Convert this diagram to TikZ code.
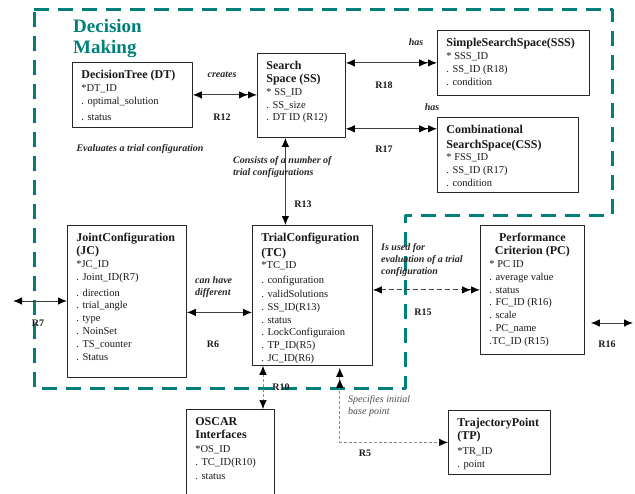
\documentclass[tikz,border=0pt]{standalone}
\usepackage{fontspec}
\setmainfont{Liberation Serif}
\usetikzlibrary{arrows.meta,positioning,calc}
\definecolor{dmteal}{RGB}{0,128,122}
\newcommand{\enttext}[3]{\parbox[t][#2][t]{#1}{\raggedright\fontsize{10.5}{12.8}\selectfont #3}}
\newcommand{\enthead}[1]{{\fontsize{12}{14}\selectfont\bfseries #1}}
\newcommand{\entmid}[1]{\makebox[\linewidth]{\enthead{#1}}}
\tikzset{
	entity/.style={draw=black!85,line width=0.8pt,anchor=north west,inner xsep=9pt,inner ysep=8pt,fill=white,text=black!90},
	rel/.style={line width=1pt,draw=black!75},
	dashrel/.style={line width=1pt,draw=black!75,dash pattern=on 5pt off 3pt},
	greyrel/.style={line width=0.7pt,draw=black!45,dash pattern=on 3pt off 2pt},
	verb/.style={inner sep=0pt,align=left,font=\fontsize{10}{12}\selectfont\bfseries\itshape,text=black!85},
	rname/.style={inner sep=0pt,font=\fontsize{10}{12}\selectfont\bfseries,text=black!90}
}

\begin{document}
\begin{tikzpicture}[line join=round,x=1pt,y=-1pt,>={Latex[length=9pt,width=7.5pt,black]}]
		\useasboundingbox (0,0) rectangle (635,493);
		\clip (0,0) rectangle (635,493);
		% decision making area
		\draw[dmteal,line width=3pt,dash pattern=on 15pt off 9pt] (34,9) -- (612,9) -- (612,215) -- (405,215) -- (405,388) -- (34,388) -- cycle;
		\node[anchor=north west,inner sep=0pt,align=left,text=dmteal,font=\fontsize{19}{21}\selectfont\bfseries] (dmtitle) at (73,19) {Decision\\Making};
		% entities
		\node[entity] (dt) at (72,62) {\enttext{102pt}{49pt}{\enthead{DecisionTree (DT)}\\ {}*DT\_ID\\ . optimal\_solution\\[3pt] . status}};
		\node[entity] (ss) at (257,53) {\enttext{70pt}{68pt}{\enthead{Search}\\ \enthead{Space (SS)}\\ {}* SS\_ID\\ . SS\_size\\ . DT ID (R12)}};
		\node[entity] (sss) at (437,30) {\enttext{134pt}{49pt}{\enthead{SimpleSearchSpace(SSS)}\\ {}* SSS\_ID\\ . SS\_ID (R18)\\ . condition}};
		\node[entity] (css) at (437,117) {\enttext{123pt}{59pt}{\enthead{Combinational}\\[1.5pt] \enthead{SearchSpace(CSS)}\\ {}* FSS\_ID\\ . SS\_ID (R17)\\ . condition}};
		\node[entity] (jc) at (67,225) {\enttext{101pt}{136pt}{\enthead{JointConfiguration}\\ \enthead{(JC)}\\ {}*JC\_ID\\ . Joint\_ID(R7)\\[3pt] . direction\\ . trial\_angle\\ . type\\ . NoinSet\\ . TS\_counter\\ . Status}};
		\node[entity] (tc) at (252,225) {\enttext{102pt}{124pt}{\enthead{TrialConfiguration}\\[1.5pt] \enthead{(TC)}\\ {}*TC\_ID\\[1.5pt] . configuration\\[1.5pt] . validSolutions\\ . SS\_ID(R13)\\ . status\\ . LockConfiguraion\\ . TP\_ID(R5)\\ . JC\_ID(R6)}};
		\node[entity] (pc) at (480,225) {\enttext{86pt}{113pt}{\entmid{Performance}\\ \entmid{Criterion (PC)}\\ {}* PC ID\\ . average value\\ . status\\ . FC\_ID (R16)\\ . scale\\ . PC\_name\\ .TC\_ID (R15)}};
		\node[entity] (osc) at (186,409) {\enttext{70pt}{84pt}{\enthead{OSCAR}\\ \enthead{Interfaces}\\[2pt] {}*OS\_ID\\ . TC\_ID(R10)\\[1pt] . status}};
		\node[entity] (tp) at (448,410) {\enttext{84pt}{48pt}{\enthead{TrajectoryPoint}\\ \enthead{(TP)}\\[2pt] {}*TR\_ID\\ . point}};
		% relations
		\coordinate (r7end) at (13,301);
		\coordinate (r16end) at (633,323);
		\draw[rel,<->>] (dt.east) -- (dt.east -| ss.west);
		\draw[rel,<->>] (sss.west -| ss.east) -- (sss.west);
		\draw[rel,<->>] ([yshift=9pt]ss.south east) -- ([yshift=9pt]ss.south east -| css.west);
		\draw[rel,<->] ([xshift=-16pt]ss.south) -- ([xshift=-16pt]ss.south |- tc.north);
		\draw[rel,<->] (r7end) -- (r7end -| jc.west);
		\draw[rel,<->] ([yshift=-17pt]tc.west -| jc.east) -- ([yshift=-17pt]tc.west);
		\draw[dashrel,<->>] (pc.west -| tc.east) -- (pc.west);
		\draw[rel,<->] ([xshift=6pt]pc.east |- r16end) -- (r16end);
		\draw[greyrel,<->] ([xshift=11pt]tc.south west) -- ([xshift=11pt]tc.south west |- osc.north);
		\draw[greyrel,{Latex[length=9pt,width=7.5pt,sep=2pt,black]Latex[length=9pt,width=7.5pt,sep=2pt,black]}->] ([xshift=-33pt]tc.south east) |- (tp.west);
		% labels
		\node[verb] (lcreates) at (222,75) {creates};
		\node[rname] (lr12) at (222,117) {R12};
		\node[verb] (lhas1) at (416,42) {has};
		\node[rname] (lr18) at (384,85) {R18};
		\node[verb] (lhas2) at (432,107) {has};
		\node[rname] (lr17) at (384,149) {R17};
		\node[verb] (leval) at (140,149) {Evaluates a trial configuration};
		\node[verb,anchor=west] (lconsists) at (233,167) {Consists of a number of\\trial configurations};
		\node[rname] (lr13) at (303,204) {R13};
		\node[verb,anchor=west] (lcanhave) at (195,287) {can have\\different};
		\node[rname] (lr6) at (213,344) {R6};
		\node[rname] (lr7) at (38,323) {R7};
		\node[verb,anchor=west] (lused) at (381,260) {Is used for\\evaluation of a trial\\configuration};
		\node[rname] (lr15) at (423,312) {R15};
		\node[rname] (lr16) at (607,344) {R16};
		\node[rname] (lr10) at (281,387) {R10};
		\node[verb,anchor=west,font=\fontsize{10}{12.5}\selectfont\itshape,text=black!70] (lspec) at (348,406) {Specifies initial\\base point};
		\node[rname] (lr5) at (365,453) {R5};
	\end{tikzpicture}
\end{document}
